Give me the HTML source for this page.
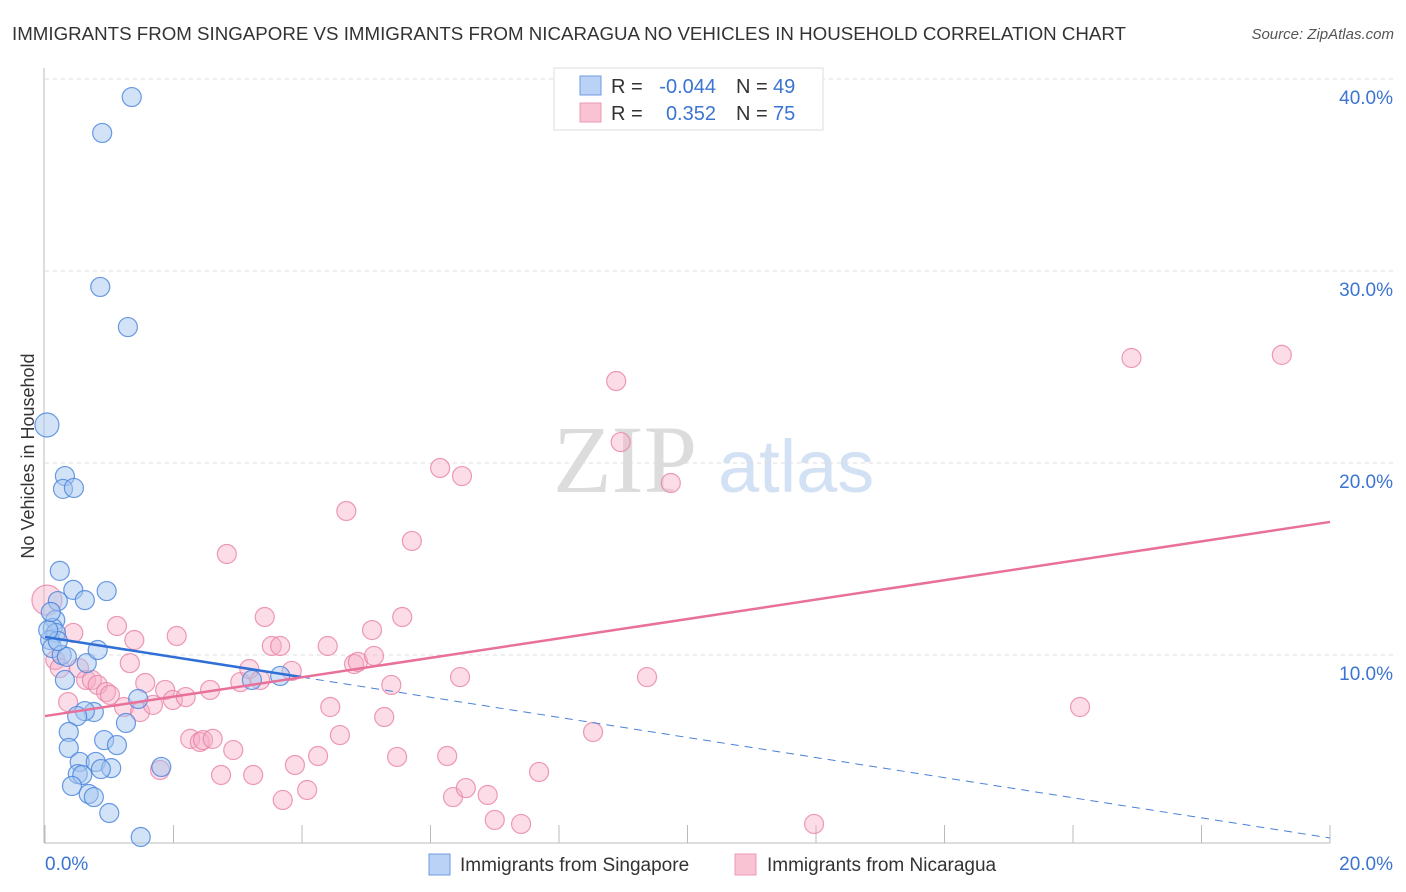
<!DOCTYPE html>
<html><head><meta charset="utf-8"><style>
body{margin:0;background:#fff;font-family:"Liberation Sans",sans-serif;}
svg{display:block}
</style></head><body>
<svg id="chart" width="1406" height="892" xmlns="http://www.w3.org/2000/svg">
<text x="12" y="40" font-size="18.5" textLength="1114" lengthAdjust="spacingAndGlyphs" fill="#333">IMMIGRANTS FROM SINGAPORE VS IMMIGRANTS FROM NICARAGUA NO VEHICLES IN HOUSEHOLD CORRELATION CHART</text>
<text x="1394" y="39" font-size="15" fill="#555" font-style="italic" text-anchor="end">Source: ZipAtlas.com</text>
<g>
<text x="553" y="492" font-size="96" font-family="Liberation Serif,serif" fill="#dcdcdc">ZIP</text>
<text x="718" y="492" font-size="74" fill="#d3e1f4">atlas</text>
</g>
<text transform="translate(34,456) rotate(-90)" font-size="18" fill="#333" text-anchor="middle">No Vehicles in Household</text>
<g id="grid"></g><g id="ticks"></g><g id="pts"></g><g id="lines"></g>
<g>
<rect x="554" y="68" width="269" height="62" fill="#fff" stroke="#ddd"/>
<rect x="580" y="76" width="21" height="19" fill="#b9d2f5" stroke="#6f9be0"/>
<rect x="580" y="103" width="21" height="19" fill="#f9c3d3" stroke="#eb9ab5"/>
<g font-size="20">
<text x="611" y="93" fill="#333">R = </text><text x="716" y="93" fill="#3b74d1" text-anchor="end">-0.044</text>
<text x="736" y="93" fill="#333">N = </text><text x="773" y="93" fill="#3b74d1">49</text>
<text x="611" y="120" fill="#333">R = </text><text x="716" y="120" fill="#3b74d1" text-anchor="end">0.352</text>
<text x="736" y="120" fill="#333">N = </text><text x="773" y="120" fill="#3b74d1">75</text>
</g></g>
<g>
<rect x="429" y="854" width="21" height="21" fill="#b9d2f5" stroke="#6f9be0"/>
<text x="460" y="871" font-size="19" fill="#333">Immigrants from Singapore</text>
<rect x="735" y="854" width="21" height="21" fill="#f9c3d3" stroke="#eb9ab5"/>
<text x="767" y="871" font-size="19" fill="#333">Immigrants from Nicaragua</text>
</g>
</svg>
<script>
const yTicks=[10,20,30,40];
const yTickLabels=["10.0%","20.0%","30.0%","40.0%"];
const xTickLabels=["0.0%","20.0%"];
const singapore=[[1.35,39.06],[0.89,37.19],[0.86,29.17],[1.29,27.08],[0.03,21.98],[0.31,19.32],[0.28,18.65],[0.45,18.70],[0.23,14.38],[0.44,13.39],[0.96,13.33],[0.62,12.86],[0.20,12.81],[0.16,11.82],[0.12,11.41],[0.17,11.15],[0.08,10.78],[0.11,10.36],[0.26,10.0],[0.34,9.90],[0.65,9.58],[0.82,10.26],[0.31,8.70],[0.76,7.03],[0.62,7.08],[0.50,6.82],[1.45,7.71],[1.26,6.46],[0.37,5.99],[0.37,5.16],[0.92,5.57],[1.12,5.31],[0.54,4.43],[0.79,4.43],[1.03,4.11],[0.87,4.06],[0.51,3.80],[0.58,3.75],[0.42,3.18],[0.68,2.76],[0.76,2.60],[1.00,1.77],[1.49,0.52],[1.81,4.17],[3.66,8.91],[3.22,8.70],[0.20,10.73],[0.05,11.30],[0.09,12.24]];
const nicaragua=[[0.03,12.86],[0.16,9.74],[0.44,11.15],[0.23,9.32],[0.36,7.55],[0.53,9.32],[0.64,8.70],[0.73,8.70],[0.82,8.44],[0.95,8.07],[1.01,7.92],[1.12,11.51],[1.32,9.58],[1.39,10.78],[1.23,7.29],[1.48,7.03],[1.68,7.40],[1.56,8.54],[1.87,8.18],[1.99,7.66],[2.19,7.81],[2.05,10.99],[2.26,5.63],[2.41,5.47],[2.46,5.57],[2.61,5.63],[2.57,8.18],[2.93,5.05],[2.74,3.75],[2.83,15.26],[3.04,8.59],[3.18,9.27],[3.24,3.75],[3.42,11.98],[3.35,8.70],[3.53,10.47],[3.66,10.47],[3.84,9.17],[3.70,2.45],[3.89,4.27],[4.08,2.97],[4.25,4.74],[4.44,7.29],[4.59,5.83],[4.40,10.47],[4.69,17.50],[4.81,9.53],[4.87,9.64],[5.12,9.95],[5.09,11.30],[5.28,6.77],[5.39,8.44],[5.48,4.69],[5.56,11.98],[5.71,15.94],[6.15,19.74],[6.49,19.32],[6.26,4.74],[6.35,2.60],[6.46,8.85],[6.55,3.07],[6.89,2.71],[7.00,1.41],[7.41,1.20],[7.69,3.91],[8.53,5.99],[8.89,24.27],[8.96,21.09],[9.37,8.85],[9.74,18.96],[11.97,1.20],[16.11,7.29],[16.91,25.47],[19.25,25.63],[1.79,4.01]];
const singaporeTrend=[10.94,0.47];
const nicaraguaTrend=[6.82,16.93];
const singaporeSolidEnd=4.0;

const NS="http://www.w3.org/2000/svg";
const X=v=>45+v*64.25, Y=v=>847-v*19.2;
function mk(tag,attrs,parent){const e=document.createElementNS(NS,tag);for(const k in attrs)e.setAttribute(k,attrs[k]);parent.appendChild(e);return e;}
const grid=document.getElementById('grid'),ticks=document.getElementById('ticks'),pts=document.getElementById('pts'),lines=document.getElementById('lines');
yTicks.forEach((t,i)=>{
 const l=mk('line',{x1:45,x2:1395,y1:Y(t),y2:Y(t),stroke:'#ddd','stroke-dasharray':'4,4'},grid);
 
 
 const tx=mk('text',{x:1393,y:Y(t)+25,'font-size':19,fill:'#3b74d1','text-anchor':'end'},grid);
 tx.textContent=yTickLabels[i];
 
 
});
const ax=mk('line',{x1:44,x2:44,y1:68,y2:843,stroke:'#bbb'},ticks);


const bx=mk('line',{x1:44,x2:1330,y1:843,y2:843,stroke:'#bbb'},ticks);


for(let i=0;i<=10;i++){const v=i*2;const tk=mk('line',{x1:X(v),x2:X(v),y1:825,y2:843,stroke:'#bbb'},ticks);
 
 }
[[0,xTickLabels[0],'start',45],[20,xTickLabels[1],'end',1393]].forEach(a=>{
 const t=mk('text',{x:a[3],y:870,'font-size':19,fill:'#3b74d1','text-anchor':a[2]},ticks);t.textContent=a[1];
 
 
});
function dot(p,fill,stroke,r,name){const c=mk('circle',{cx:X(p[0]),cy:Y(p[1]),r:r,fill:fill,stroke:stroke,'stroke-width':1.2},pts);
 
 }
nicaragua.forEach(p=>{const big=p===nicaragua[0];dot(p,'rgba(246,172,197,0.42)','rgba(232,130,165,0.8)',big?15:9.5,'point-nicaragua');});
singapore.forEach(p=>{const big=p===singapore[4];dot(p,'rgba(165,198,240,0.5)','rgba(70,130,220,0.8)',big?12:9.5,'point-singapore');});
const l1=mk('line',{x1:X(0),y1:Y(singaporeTrend[0]),x2:X(singaporeSolidEnd),y2:Y(singaporeTrend[0]+(singaporeTrend[1]-singaporeTrend[0])*singaporeSolidEnd/20),stroke:'#2f6fd6','stroke-width':2.5},lines);


const l2=mk('line',{x1:X(singaporeSolidEnd),y1:Y(singaporeTrend[0]+(singaporeTrend[1]-singaporeTrend[0])*singaporeSolidEnd/20),x2:X(20),y2:Y(singaporeTrend[1]),stroke:'#4a80d8','stroke-width':1,'stroke-dasharray':'8,6'},lines);


const l3=mk('line',{x1:X(0),y1:Y(nicaraguaTrend[0]),x2:X(20),y2:Y(nicaraguaTrend[1]),stroke:'#e8709a','stroke-width':2.5},lines);


</script>
</body></html>
